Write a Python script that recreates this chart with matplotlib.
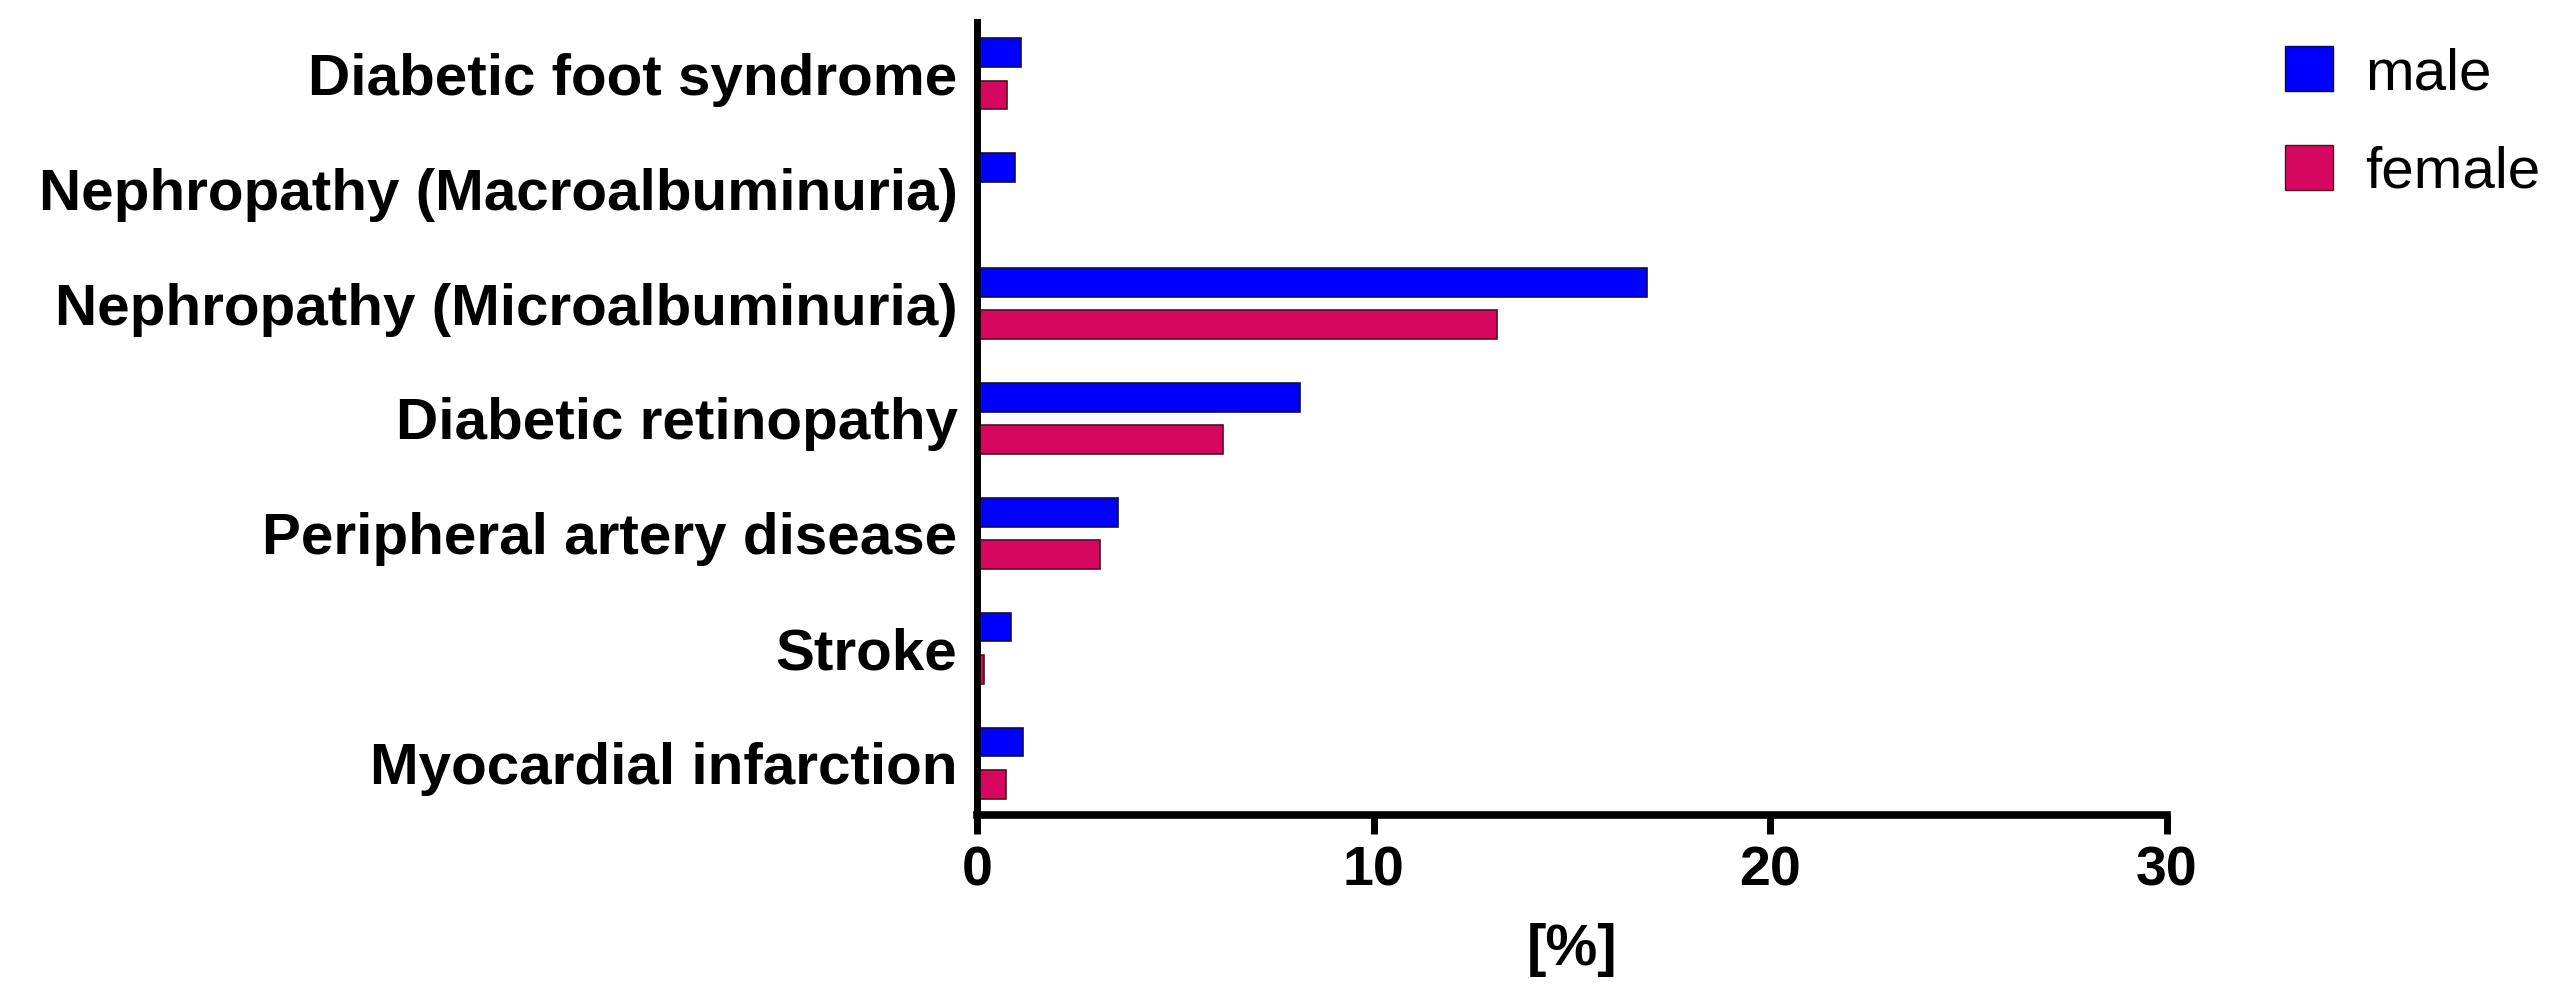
import numpy as np
import matplotlib.pyplot as plt
from matplotlib.patches import Patch

# data (top to bottom)
categories = ['Diabetic foot syndrome', 'Nephropathy (Macroalbuminuria)',
              'Nephropathy (Microalbuminuria)', 'Diabetic retinopathy',
              'Peripheral artery disease', 'Stroke', 'Myocardial infarction']
male = [1.1, 0.95, 16.9, 8.15, 3.55, 0.85, 1.15]
female = [0.75, 0.0, 13.1, 6.2, 3.1, 0.18, 0.72]
xticks = [0, 10, 20, 30]

male_color = '#0000FF'
female_color = '#D6075F'

plt.rcParams['font.family'] = ['Liberation Sans', 'DejaVu Sans']

fig = plt.figure(figsize=(25.59, 9.9), dpi=100)
ax = fig.add_axes([0.3818, 0.1768, 0.4650, 0.8010])

y = np.arange(len(categories))
off = 0.185
h = 0.25
ax.barh(y - off, male, height=h, color=male_color, edgecolor='#101040', linewidth=1.2)
ax.barh(y + off, female, height=h, color=female_color, edgecolor='#501020', linewidth=1.2)

ax.set_ylim(len(categories) - 0.55, -0.45)
ax.set_xlim(0, 30)
ax.set_xticks(xticks)
ax.set_yticks(y)
ax.set_yticklabels(categories, fontsize=42, fontweight='bold')
ax.tick_params(axis='y', length=0, pad=14)
ax.tick_params(axis='x', length=14, width=5, labelsize=40, pad=8)
for lab in ax.get_xticklabels():
    lab.set_fontweight('bold')

ax.spines['top'].set_visible(False)
ax.spines['right'].set_visible(False)
ax.spines['left'].set_linewidth(5)
ax.spines['bottom'].set_linewidth(5.5)

ax.set_xlabel('[%]', fontsize=42, fontweight='bold', labelpad=18)

handles = [Patch(facecolor=male_color, edgecolor='#101040', label='male'),
           Patch(facecolor=female_color, edgecolor='#501020', label='female')]
fig.legend(handles=handles, loc='upper left', bbox_to_anchor=(0.884, 0.977),
           frameon=False, fontsize=42, handlelength=0.82, handleheight=0.82,
           handletextpad=0.55, labelspacing=0.75, borderaxespad=0)

fig.savefig('out.png', dpi=100)
